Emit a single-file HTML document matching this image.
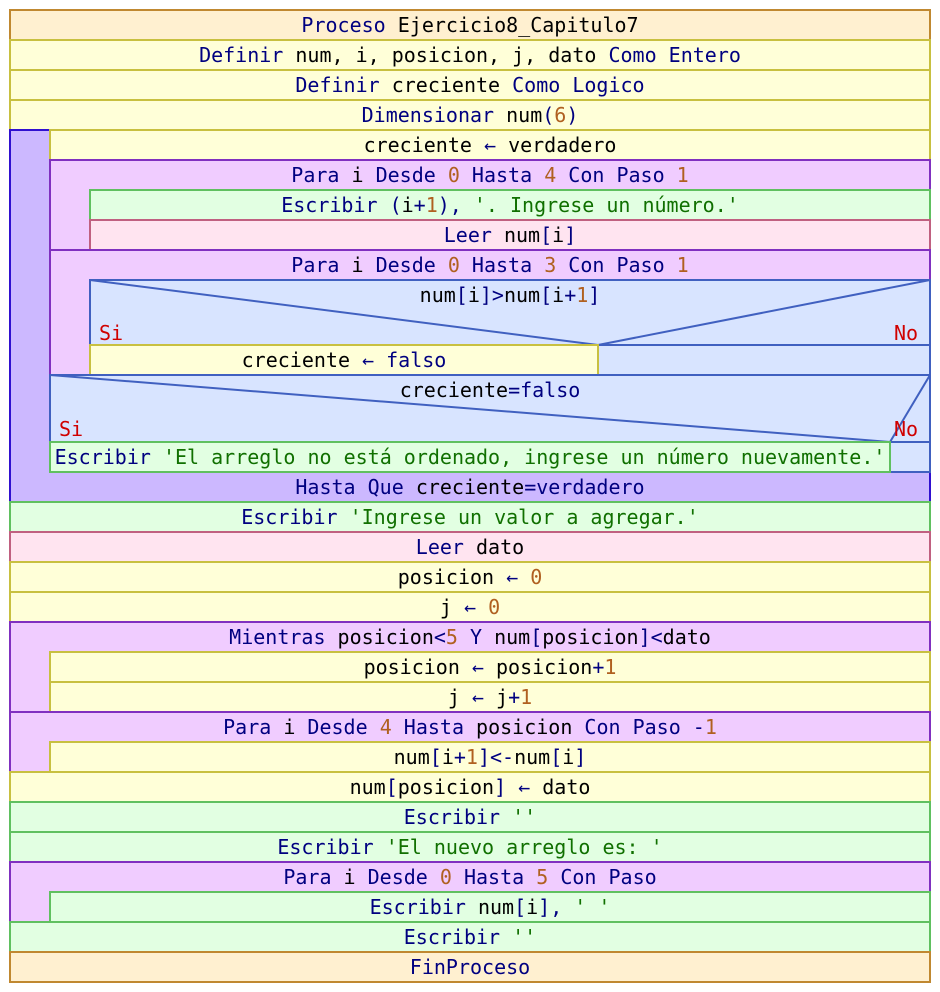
<!DOCTYPE html>
<html><head><meta charset="utf-8"><style>
html,body{margin:0;padding:0;background:#fff}
svg{display:block}
text{font-family:"DejaVu Sans Mono","Liberation Mono",monospace;font-size:20px;fill:#000080;text-anchor:middle}
.v{fill:#000}.n{fill:#b06020}.s{fill:#107000}.r{fill:#d00000}
.Y{fill:#ffffd8;stroke:#c8c040;stroke-width:2}
.O{fill:#fff0d0;stroke:#c08830;stroke-width:2}
.P{fill:#f0ccff;stroke:#8030c0;stroke-width:2}
.R{fill:#ccb8ff;stroke:#3010d0;stroke-width:2}
.G{fill:#e2ffe2;stroke:#60c060;stroke-width:2}
.K{fill:#ffe4f0;stroke:#c06080;stroke-width:2}
.B{fill:#d8e4ff;stroke:#4060c0;stroke-width:2}
line{stroke:#4060c0;stroke-width:2}
</style></head><body>
<svg width="940" height="992" viewBox="0 0 940 992" xmlns="http://www.w3.org/2000/svg">
<rect class="O" x="10" y="10" width="920" height="30"/>
<rect class="Y" x="10" y="40" width="920" height="30"/>
<rect class="Y" x="10" y="70" width="920" height="30"/>
<rect class="Y" x="10" y="100" width="920" height="30"/>
<rect class="R" x="10" y="130" width="920" height="372"/>
<rect class="Y" x="50" y="130" width="880" height="30"/>
<rect class="P" x="50" y="160" width="880" height="90"/>
<rect class="G" x="90" y="190" width="840" height="30"/>
<rect class="K" x="90" y="220" width="840" height="30"/>
<rect class="P" x="50" y="250" width="880" height="125"/>
<rect class="B" x="90" y="280" width="840" height="95"/>
<line x1="90" y1="280" x2="598" y2="345"/><line x1="598" y1="345" x2="930" y2="280"/>
<line x1="90" y1="345" x2="930" y2="345"/>
<rect class="Y" x="90" y="345" width="508" height="30"/>
<rect class="B" x="50" y="375" width="880" height="97"/>
<line x1="50" y1="375" x2="890" y2="442"/><line x1="890" y1="442" x2="930" y2="375"/>
<line x1="50" y1="442" x2="930" y2="442"/>
<rect class="G" x="50" y="442" width="840" height="30"/>
<rect class="G" x="10" y="502" width="920" height="30"/>
<rect class="K" x="10" y="532" width="920" height="30"/>
<rect class="Y" x="10" y="562" width="920" height="30"/>
<rect class="Y" x="10" y="592" width="920" height="30"/>
<rect class="P" x="10" y="622" width="920" height="90"/>
<rect class="Y" x="50" y="652" width="880" height="30"/>
<rect class="Y" x="50" y="682" width="880" height="30"/>
<rect class="P" x="10" y="712" width="920" height="60"/>
<rect class="Y" x="50" y="742" width="880" height="30"/>
<rect class="Y" x="10" y="772" width="920" height="30"/>
<rect class="G" x="10" y="802" width="920" height="30"/>
<rect class="G" x="10" y="832" width="920" height="30"/>
<rect class="P" x="10" y="862" width="920" height="60"/>
<rect class="G" x="50" y="892" width="880" height="30"/>
<rect class="G" x="10" y="922" width="920" height="30"/>
<rect class="O" x="10" y="952" width="920" height="30"/>

<text x="470" y="32">Proceso <tspan class="v">Ejercicio8_Capitulo7</tspan></text>
<text x="470" y="62">Definir <tspan class="v">num, i, posicion, j, dato</tspan> Como Entero</text>
<text x="470" y="92">Definir <tspan class="v">creciente</tspan> Como Logico</text>
<text x="470" y="122">Dimensionar <tspan class="v">num</tspan>(<tspan class="n">6</tspan>)</text>
<text x="490" y="152"><tspan class="v">creciente</tspan> ← <tspan class="v">verdadero</tspan></text>
<text x="490" y="182">Para <tspan class="v">i</tspan> Desde <tspan class="n">0</tspan> Hasta <tspan class="n">4</tspan> Con Paso <tspan class="n">1</tspan></text>
<text x="510" y="212">Escribir (<tspan class="v">i</tspan>+<tspan class="n">1</tspan>), <tspan class="s">'. Ingrese un número.'</tspan></text>
<text x="510" y="242">Leer <tspan class="v">num</tspan>[<tspan class="v">i</tspan>]</text>
<text x="490" y="272">Para <tspan class="v">i</tspan> Desde <tspan class="n">0</tspan> Hasta <tspan class="n">3</tspan> Con Paso <tspan class="n">1</tspan></text>
<text x="510" y="302"><tspan class="v">num</tspan>[<tspan class="v">i</tspan>]&gt;<tspan class="v">num</tspan>[<tspan class="v">i</tspan>+<tspan class="n">1</tspan>]</text>
<text x="111" y="340" class="r">Si</text>
<text x="906" y="340" class="r">No</text>
<text x="344" y="367"><tspan class="v">creciente</tspan> ← falso</text>
<text x="490" y="397"><tspan class="v">creciente</tspan>=falso</text>
<text x="71" y="436" class="r">Si</text>
<text x="906" y="436" class="r">No</text>
<text x="470" y="464">Escribir <tspan class="s">'El arreglo no está ordenado, ingrese un número nuevamente.'</tspan></text>
<text x="470" y="494">Hasta Que <tspan class="v">creciente</tspan>=verdadero</text>
<text x="470" y="524">Escribir <tspan class="s">'Ingrese un valor a agregar.'</tspan></text>
<text x="470" y="554">Leer <tspan class="v">dato</tspan></text>
<text x="470" y="584"><tspan class="v">posicion</tspan> ← <tspan class="n">0</tspan></text>
<text x="470" y="614"><tspan class="v">j</tspan> ← <tspan class="n">0</tspan></text>
<text x="470" y="644">Mientras <tspan class="v">posicion</tspan>&lt;<tspan class="n">5</tspan> Y <tspan class="v">num</tspan>[<tspan class="v">posicion</tspan>]&lt;<tspan class="v">dato</tspan></text>
<text x="490" y="674"><tspan class="v">posicion</tspan> ← <tspan class="v">posicion</tspan>+<tspan class="n">1</tspan></text>
<text x="490" y="704"><tspan class="v">j</tspan> ← <tspan class="v">j</tspan>+<tspan class="n">1</tspan></text>
<text x="470" y="734">Para <tspan class="v">i</tspan> Desde <tspan class="n">4</tspan> Hasta <tspan class="v">posicion</tspan> Con Paso -<tspan class="n">1</tspan></text>
<text x="490" y="764"><tspan class="v">num</tspan>[<tspan class="v">i</tspan>+<tspan class="n">1</tspan>]&lt;-<tspan class="v">num</tspan>[<tspan class="v">i</tspan>]</text>
<text x="470" y="794"><tspan class="v">num</tspan>[<tspan class="v">posicion</tspan>] ← <tspan class="v">dato</tspan></text>
<text x="470" y="824">Escribir <tspan class="s">''</tspan></text>
<text x="470" y="854">Escribir <tspan class="s">'El nuevo arreglo es: '</tspan></text>
<text x="470" y="884">Para <tspan class="v">i</tspan> Desde <tspan class="n">0</tspan> Hasta <tspan class="n">5</tspan> Con Paso</text>
<text x="490" y="914">Escribir <tspan class="v">num</tspan>[<tspan class="v">i</tspan>], <tspan class="s">' '</tspan></text>
<text x="470" y="944">Escribir <tspan class="s">''</tspan></text>
<text x="470" y="974">FinProceso</text>
</svg>
</body></html>
